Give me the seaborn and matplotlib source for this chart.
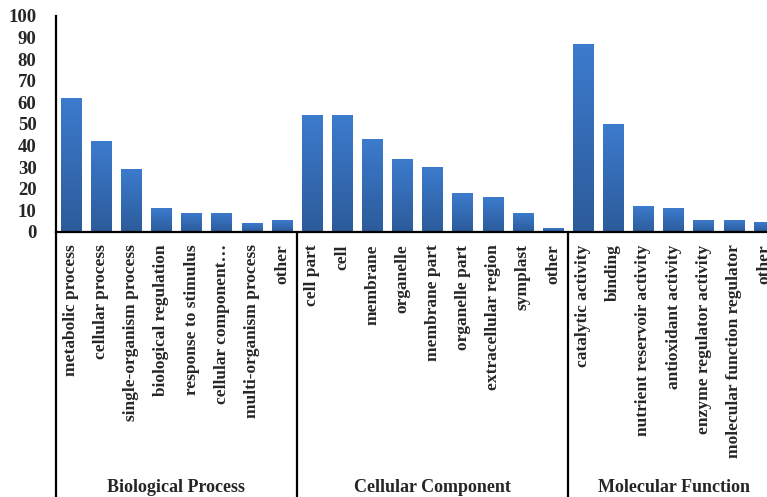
import numpy as np
import pandas as pd
import seaborn as sns
import matplotlib.pyplot as plt
from matplotlib.colors import LinearSegmentedColormap

# GO categories
groups = ["Biological Process", "Cellular Component", "Molecular Function"]
bp_terms = ["metabolic process", "cellular process", "single-organism process",
            "biological regulation", "response to stimulus", "cellular component…",
            "multi-organism process", "other"]
bp_values = [62, 42, 29, 11, 9, 9, 4, 5.5]
cc_terms = ["cell part", "cell", "membrane", "organelle", "membrane part",
            "organelle part", "extracellular region", "symplast", "other"]
cc_values = [54, 54, 43, 34, 30, 18, 16, 9, 2]
mf_terms = ["catalytic activity", "binding", "nutrient reservoir activity",
            "antioxidant activity", "enzyme regulator activity",
            "molecular function regulator", "other"]
mf_values = [87, 50, 12, 11, 5.5, 5.5, 4.5]
y_ticks = [0, 10, 20, 30, 40, 50, 60, 70, 80, 90, 100]

terms = bp_terms + cc_terms + mf_terms
values = bp_values + cc_values + mf_values
group_of = ([groups[0]] * len(bp_terms) + [groups[1]] * len(cc_terms)
            + [groups[2]] * len(mf_terms))
df = pd.DataFrame({"pos": range(len(terms)), "term": terms,
                   "value": values, "group": group_of})

sns.set_style("white")
plt.rcParams['font.family'] = ['Liberation Serif', 'DejaVu Serif']
plt.rcParams['font.weight'] = 'bold'

fig = plt.figure(figsize=(7.67, 4.97), dpi=100)
ax = fig.add_axes([56 / 767, (497 - 232) / 497, 723 / 767, 216 / 497])

sns.barplot(data=df, x="pos", y="value", color="#3670b8", width=0.68,
            saturation=1, ax=ax)

# vertical gradient on each bar, lighter at the top
cmap = LinearSegmentedColormap.from_list("bar", ["#2c5b9a", "#3c7bcd"])
grad = np.linspace(0, 1, 256).reshape(-1, 1)
for p in ax.patches:
    x0, y0 = p.get_x(), p.get_y()
    w, h = p.get_width(), p.get_height()
    im = ax.imshow(grad, cmap=cmap, origin="lower", aspect="auto",
                   extent=[x0, x0 + w, y0, y0 + h], zorder=p.get_zorder() + 0.1)
    im.set_clip_path(p)

ax.set_xlim(-0.5, len(terms) - 0.5)
ax.set_ylim(0, 100)
ax.set_yticks(y_ticks)
ax.set_xticks(range(len(terms)))
ax.set_xticklabels(terms, rotation=90, fontsize=12.5, fontweight='bold')
ax.tick_params(axis='y', length=0, pad=14, labelsize=13.5)
ax.tick_params(axis='x', length=0, pad=9)
ax.set_xlabel("")
ax.set_ylabel("")

for s in ["top", "right"]:
    ax.spines[s].set_visible(False)
ax.spines["left"].set_linewidth(1.6)
ax.spines["bottom"].set_linewidth(1.6)
ax.spines["left"].set_color("black")
ax.spines["bottom"].set_color("black")

# group dividers running down through the label area
n_bp, n_cc = len(bp_terms), len(cc_terms)
for xv in [-0.5, n_bp - 0.5, n_bp + n_cc - 0.5]:
    ax.plot([xv, xv], [0, -1.3], transform=ax.get_xaxis_transform(),
            color="black", lw=1.6, clip_on=False)

centers = [(n_bp - 1) / 2, n_bp + (n_cc - 1) / 2, n_bp + n_cc + (len(mf_terms) - 1) / 2]
for c, g in zip(centers, groups):
    ax.text(c, -1.183, g, transform=ax.get_xaxis_transform(), ha="center",
            va="center", fontsize=13, fontweight='bold')

fig.savefig("out.png", dpi=100)
